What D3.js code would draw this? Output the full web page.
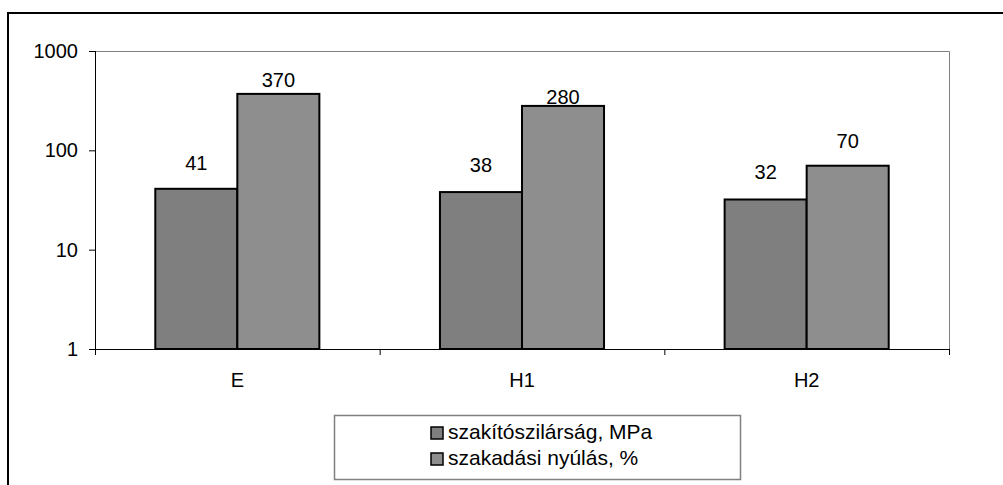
<!DOCTYPE html>
<html>
<head>
<meta charset="utf-8">
<script src="https://cdn.jsdelivr.net/npm/d3@7"></script>
<style>
  body { margin: 0; background: #fff; }
  svg text { font-family: "Liberation Sans", Arial, sans-serif; }
</style>
</head>
<body>
<div id="chart"></div>
<script>
const categories = ["E", "H1", "H2"];
const seriesNames = ["szakítószilárság, MPa", "szakadási nyúlás, %"];
const strength = [41, 38, 32];
const elongation = [370, 280, 70];
const yTicks = [1, 10, 100, 1000];

const colors = ["#7f7f7f", "#8e8e8e"];
// gap (px) between bar top and label baseline, as placed in the original
const labelGap = [[19, 7], [20, 2], [20, 18]];

const W = 1003, H = 485;
const margin = { top: 51, right: 54, bottom: 136, left: 95 };
const width = W - margin.left - margin.right;
const height = H - margin.top - margin.bottom;

const svg = d3.select("#chart").append("svg")
    .attr("width", W)
    .attr("height", H);

// outer frame (runs off the right and bottom edges)
svg.append("rect")
    .attr("x", 8).attr("y", 13)
    .attr("width", 1100).attr("height", 600)
    .attr("fill", "none")
    .attr("stroke", "#000")
    .attr("stroke-width", 2);

const chart = svg.append("g")
    .attr("transform", `translate(${margin.left},${margin.top})`);

const x0 = d3.scaleBand().domain(categories).range([0, width]).padding(0);
const x1 = d3.scaleBand().domain(seriesNames).range([0, x0.bandwidth()])
    .paddingInner(0).paddingOuter(0.735);
const y = d3.scaleLog().domain([1, 1000]).range([height, 0]);

// plot area border (top/right in grey)
chart.append("path")
    .attr("d", `M0,0.5H${width + 0.5}V${height}`)
    .attr("fill", "none")
    .attr("stroke", "#808080")
    .attr("stroke-width", 1);

const rows = categories.map((c, i) => ({
    category: c,
    values: [
        { name: seriesNames[0], value: strength[i], si: 0, gap: labelGap[i][0] },
        { name: seriesNames[1], value: elongation[i], si: 1, gap: labelGap[i][1] }
    ]
}));

const groups = chart.selectAll(".grp")
    .data(rows)
    .join("g")
    .attr("class", "grp")
    .attr("transform", d => `translate(${x0(d.category)},0)`);

groups.selectAll("rect")
    .data(d => d.values)
    .join("rect")
    .attr("x", d => x1(d.name))
    .attr("y", d => y(d.value))
    .attr("width", x1.bandwidth())
    .attr("height", d => height - y(d.value))
    .attr("fill", d => colors[d.si])
    .attr("stroke", "#000")
    .attr("stroke-width", 2);

groups.selectAll(".val")
    .data(d => d.values)
    .join("text")
    .attr("class", "val")
    .attr("x", d => x1(d.name) + x1.bandwidth() / 2)
    .attr("y", d => y(d.value) - d.gap)
    .attr("text-anchor", "middle")
    .attr("font-size", 20)
    .text(d => d.value);

// y axis
const yAxis = chart.append("g")
    .call(d3.axisLeft(y).tickValues(yTicks).tickFormat(d3.format("d")).tickSize(6).tickPadding(11));
yAxis.selectAll("text").attr("font-size", 20).attr("fill", "#000").attr("font-family", "Liberation Sans, Arial, sans-serif");
yAxis.selectAll("line,path").attr("stroke", "#000");
yAxis.select(".domain").attr("d", `M0.5,0V${height}`);

// x axis: ticks at category boundaries
const xAxis = chart.append("g")
    .attr("transform", `translate(0,${height})`);
xAxis.append("line")
    .attr("x1", 0).attr("x2", width)
    .attr("y1", 0.5).attr("y2", 0.5)
    .attr("stroke", "#000");
const bounds = categories.map(c => x0(c)).concat([width]);
xAxis.selectAll(".tk")
    .data(bounds)
    .join("line")
    .attr("class", "tk")
    .attr("x1", d => d + 0.5).attr("x2", d => d + 0.5)
    .attr("y1", 0).attr("y2", 6)
    .attr("stroke", "#000");
xAxis.selectAll(".cl")
    .data(categories)
    .join("text")
    .attr("class", "cl")
    .attr("x", d => x0(d) + x0.bandwidth() / 2)
    .attr("y", 38)
    .attr("text-anchor", "middle")
    .attr("font-size", 20)
    .text(d => d);

// legend
const legend = svg.append("g");
legend.append("rect")
    .attr("x", 334.5).attr("y", 415.5)
    .attr("width", 406).attr("height", 64)
    .attr("fill", "#fff")
    .attr("stroke", "#808080")
    .attr("stroke-width", 1.5);
const items = legend.selectAll(".li")
    .data(seriesNames)
    .join("g")
    .attr("class", "li")
    .attr("transform", (d, i) => `translate(431,${427 + i * 26})`);
items.append("rect")
    .attr("width", 12).attr("height", 12)
    .attr("fill", (d, i) => colors[i])
    .attr("stroke", "#000")
    .attr("stroke-width", 1.5);
items.append("text")
    .attr("x", 17)
    .attr("y", 12)
    .attr("font-size", 21)
    .text(d => d);
</script>
</body>
</html>
